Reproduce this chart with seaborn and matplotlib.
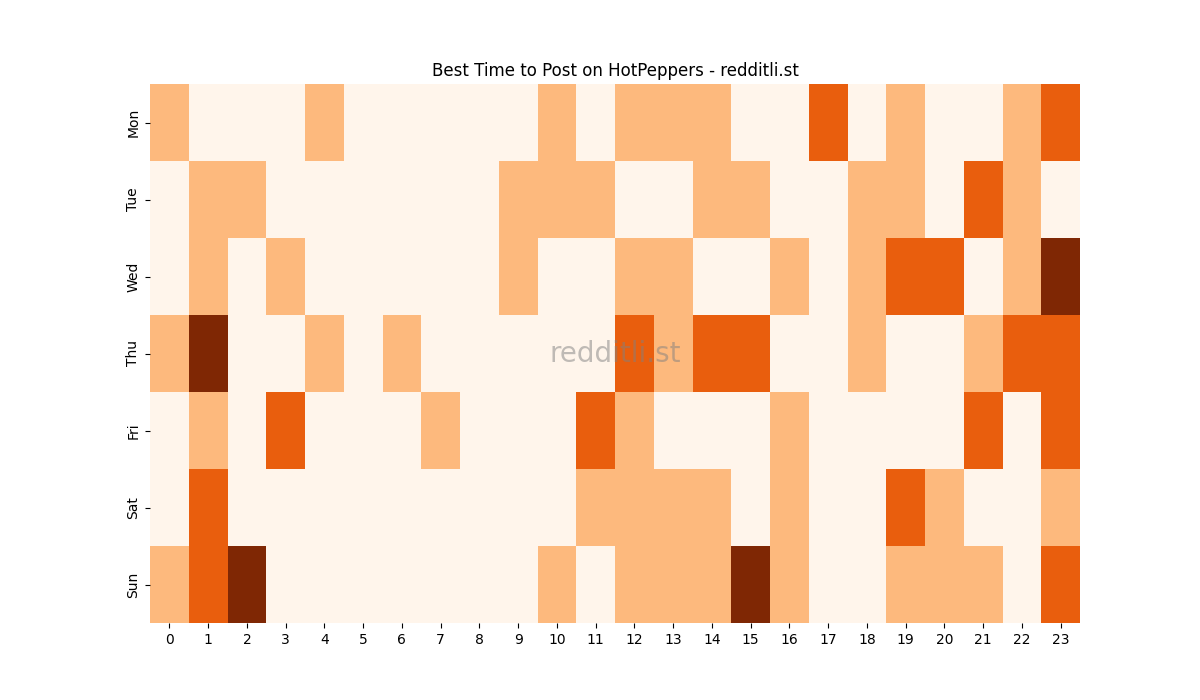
import numpy as np
import pandas as pd
import matplotlib
matplotlib.use("Agg")
import matplotlib.pyplot as plt
import seaborn as sns

days = ["Mon", "Tue", "Wed", "Thu", "Fri", "Sat", "Sun"]
hours = list(range(24))

# activity level per hour (0-3)
mon = [1, 0, 0, 0, 1, 0, 0, 0, 0, 0, 1, 0, 1, 1, 1, 0, 0, 2, 0, 1, 0, 0, 1, 2]
tue = [0, 1, 1, 0, 0, 0, 0, 0, 0, 1, 1, 1, 0, 0, 1, 1, 0, 0, 1, 1, 0, 2, 1, 0]
wed = [0, 1, 0, 1, 0, 0, 0, 0, 0, 1, 0, 0, 1, 1, 0, 0, 1, 0, 1, 2, 2, 0, 1, 3]
thu = [1, 3, 0, 0, 1, 0, 1, 0, 0, 0, 0, 0, 2, 1, 2, 2, 0, 0, 1, 0, 0, 1, 2, 2]
fri = [0, 1, 0, 2, 0, 0, 0, 1, 0, 0, 0, 2, 1, 0, 0, 0, 1, 0, 0, 0, 0, 2, 0, 2]
sat = [0, 2, 0, 0, 0, 0, 0, 0, 0, 0, 0, 1, 1, 1, 1, 0, 1, 0, 0, 2, 1, 0, 0, 1]
sun = [1, 2, 3, 0, 0, 0, 0, 0, 0, 0, 1, 0, 1, 1, 1, 3, 1, 0, 0, 1, 1, 1, 0, 2]

df = pd.DataFrame([mon, tue, wed, thu, fri, sat, sun], index=days, columns=hours)

fig, ax = plt.subplots(figsize=(12, 7), dpi=100)
sns.heatmap(df, cmap="Oranges", vmin=0, vmax=3, cbar=False, ax=ax)
ax.set_title("Best Time to Post on HotPeppers - redditli.st")
ax.text(0.5, 0.5, "redditli.st", transform=ax.transAxes, fontsize=20,
        color="gray", alpha=0.5, ha="center", va="center")
fig.savefig("out.png", dpi=100)
